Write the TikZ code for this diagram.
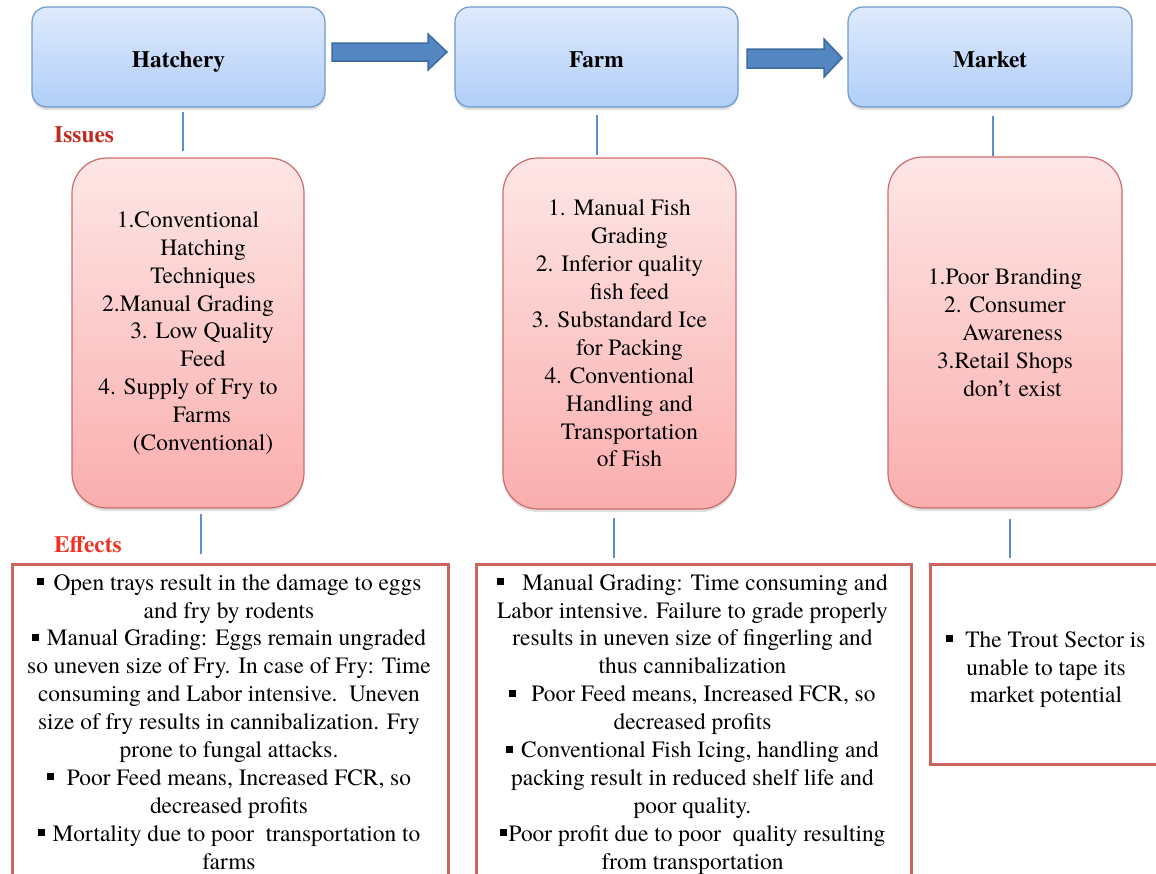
\documentclass[tikz,border=0pt]{standalone}
\usepackage{fontspec}
\setmainfont{TeX Gyre Termes}
\usetikzlibrary{shadows}
\definecolor{blueTop}{HTML}{DFEAFC}
\definecolor{blueBot}{HTML}{B0CEF8}
\definecolor{blueBorder}{HTML}{6E9AC9}
\definecolor{pinkTop}{HTML}{FEE6E6}
\definecolor{pinkBot}{HTML}{FAAEAE}
\definecolor{pinkBorder}{HTML}{CC6B6B}
\definecolor{effBorder}{HTML}{C9645E}
\definecolor{arrowFill}{HTML}{5487C2}
\definecolor{arrowBorder}{HTML}{3C6A9E}
\definecolor{lineBlue}{HTML}{5B8FCB}
\definecolor{issuesRed}{HTML}{C0291D}
\definecolor{effectsRed}{HTML}{EE3322}
\newcommand{\fs}{\fontsize{23.4}{27.9}\selectfont}
\newcommand{\bul}{\raisebox{5pt}{\rule{7pt}{7pt}}}
\tikzset{
  topbox/.style={draw=blueBorder, line width=1.2pt, rounded corners=15pt,
    top color=blueTop, bottom color=blueBot, font=\fs\bfseries,
    text height=20pt, text depth=0pt,
    drop shadow={opacity=0.25, shadow xshift=0pt, shadow yshift=-3pt}},
  issuebox/.style={draw=pinkBorder, line width=1.2pt, rounded corners=35pt,
    top color=pinkTop, bottom color=pinkBot, align=center, font=\fs,
    drop shadow={opacity=0.25, shadow xshift=0pt, shadow yshift=-3pt}},
  effbox/.style={draw=effBorder, line width=3pt, rectangle, inner sep=0pt, anchor=north west},
  efftext/.style={align=center, inner sep=0pt, font=\fs},
  conn/.style={draw=lineBlue, line width=1.2pt},
  bigarrow/.style={draw=arrowBorder, fill=arrowFill, line width=1.5pt, line join=miter},
  label/.style={font=\fs\bfseries, inner sep=0pt, anchor=base west}
}
\begin{document}
\begin{tikzpicture}[x=1pt,y=-1pt]
\useasboundingbox (0,0) rectangle (1156,873);
\clip (0,0) rectangle (1156,873);
\fill[white] (0,0) rectangle (1156,873);

% top boxes
\node[topbox, minimum width=293pt, minimum height=100pt] (hatch) at (178.5,57) {Hatchery};
\node[topbox, minimum width=283pt, minimum height=100pt] (farm) at (596.5,57) {Farm};
\node[topbox, minimum width=284pt, minimum height=100pt] (market) at (990,57) {Market};

% block arrows
\path[bigarrow] (332,43) -- (428,43) -- (428,34) -- (447,52) -- (428,70) -- (428,61) -- (332,61) -- cycle;
\path[bigarrow] (747,49) -- (824,49) -- (824,39) -- (842,58) -- (824,77) -- (824,68) -- (747,68) -- cycle;

% labels
\node[label, text=issuesRed] (issues) at (54,142) {Issues};
\node[label, text=effectsRed] (effects) at (54,552) {Effects};

% issues boxes
\node[issuebox, minimum width=232pt, minimum height=350pt] (hi) at (188,333) {%
1.Conventional\\
\hspace*{30pt}Hatching\\
\hspace*{30pt}Techniques\\
2.Manual Grading\\
\hspace*{28pt}3. Low Quality\\
\hspace*{30pt}Feed\\
4. Supply of Fry to\\
\hspace*{28pt}Farms\\
\hspace*{30pt}(Conventional)};

\node[issuebox, minimum width=233pt, minimum height=351pt] (fi) at (619.5,333.5) {%
1. Manual Fish\\
\hspace*{20pt}Grading\\
2. Inferior quality\\
\hspace*{20pt}fish feed\\
3. Substandard Ice\\
\hspace*{20pt}for Packing\\
4. Conventional\\
\hspace*{20pt}Handling and\\
\hspace*{20pt}Transportation\\
\hspace*{20pt}of Fish};

\node[issuebox, minimum width=234pt, minimum height=351pt] (mi) at (1005,332.5) {%
1.Poor Branding\\
2. Consumer\\
\hspace*{15pt}Awareness\\
3.Retail Shops\\
\hspace*{15pt}don’t\hspace{8pt}exist};

% connectors
\coordinate (h1) at (183,112); \coordinate (h2) at (183,151);
\coordinate (h3) at (201,514); \coordinate (h4) at (201,554);
\coordinate (f1) at (597,115); \coordinate (f2) at (597,155);
\coordinate (f3) at (614,518); \coordinate (f4) at (614,558);
\coordinate (m1) at (993,116); \coordinate (m2) at (993,156);
\coordinate (m3) at (1010,519); \coordinate (m4) at (1010,558);
\draw[conn] (h1) -- (h2);
\draw[conn] (h3) -- (h4);
\draw[conn] (f1) -- (f2);
\draw[conn] (f3) -- (f4);
\draw[conn] (m1) -- (m2);
\draw[conn] (m3) -- (m4);

% effects boxes
\node[effbox, minimum width=436pt, minimum height=340pt] (he) at (11,563) {};
\node[effbox, minimum width=435pt, minimum height=340pt] (fe) at (475,563) {};
\node[effbox, minimum width=260pt, minimum height=200pt] (me) at (929,563) {};

\node[efftext, anchor=north] (het) at (229,574) {%
\bul\hspace{10pt}Open trays result in the damage to eggs\\
and fry by rodents\\
\bul\hspace{8pt}Manual Grading: Eggs remain ungraded\\
so uneven size of Fry. In case of Fry: Time\\
consuming and Labor intensive.\ \ Uneven\\
size of fry results in cannibalization. Fry\\
prone to fungal attacks.\\
\bul\hspace{13pt}Poor Feed means, Increased FCR, so\\
decreased profits\\
\bul\hspace{8pt}Mortality due to poor\ \ transportation to\\
farms};

\node[efftext, anchor=north] (fet) at (692.5,574) {%
\bul\hspace{18pt}Manual Grading: Time consuming and\\
Labor intensive. Failure to grade properly\\
results in uneven size of fingerling and\\
thus cannibalization\\
\bul\hspace{15pt}Poor Feed means, Increased FCR, so\\
decreased profits\\
\bul\hspace{8pt}Conventional Fish Icing, handling and\\
packing result in reduced shelf life and\\
poor quality.\\
\bul\hspace{2pt}Poor profit due to poor\ \ quality resulting\\
from transportation};

\node[efftext, anchor=north] (met) at (1046,631) {%
\bul\hspace{12pt}The Trout Sector is\\
unable to tape its\\
market potential};
\end{tikzpicture}
\end{document}
